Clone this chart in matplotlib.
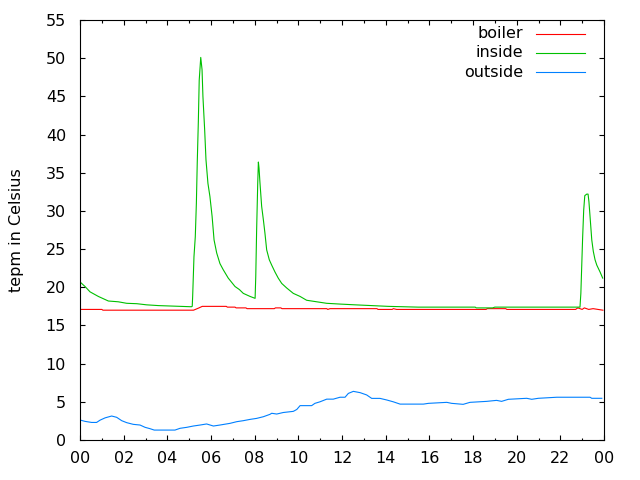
import matplotlib
matplotlib.use("Agg")
import matplotlib.pyplot as plt
from matplotlib.ticker import MultipleLocator, FuncFormatter

# hours of the day (0..24) and temperatures
inside_t = [0.0, 0.23, 0.46, 0.84, 1.3, 1.75, 2.14, 2.6, 3.05, 3.6, 4.1, 5.1,
            5.14, 5.16, 5.22, 5.28, 5.33, 5.37, 5.42, 5.46, 5.53, 5.59, 5.63,
            5.71, 5.77, 5.86, 5.95, 6.05, 6.14, 6.26, 6.41, 6.56, 6.79, 7.10,
            7.30, 7.48, 7.79, 8.02, 8.05, 8.09, 8.14, 8.17, 8.20, 8.24, 8.32,
            8.40, 8.47, 8.55, 8.67, 8.78, 8.93, 9.08, 9.24, 9.47, 9.77, 10.08,
            10.38, 10.84, 11.3, 11.91, 12.6, 14.12, 15.49, 17.4, 18.1, 18.15,
            18.9, 19.0, 22.9, 22.94, 22.98, 23.02, 23.07, 23.12, 23.21, 23.27,
            23.31, 23.36, 23.44, 23.51, 23.59, 23.67, 23.82, 23.94]
inside_v = [20.7, 20.1, 19.4, 18.8, 18.2, 18.1, 17.9, 17.85, 17.7, 17.6, 17.55, 17.45,
            17.5, 18.8, 24.0, 26.6, 31.0, 36.3, 41.7, 47.1, 50.1, 48.5, 45.0,
            40.6, 36.7, 33.6, 31.9, 29.3, 26.2, 24.5, 23.1, 22.3, 21.2, 20.1,
            19.7, 19.2, 18.8, 18.55, 21.4, 27.5, 33.6, 36.4, 35.6, 33.8, 30.6,
            28.8, 27.1, 24.9, 23.6, 22.9, 22.0, 21.2, 20.5, 19.9, 19.2, 18.8,
            18.3, 18.1, 17.9, 17.8, 17.7, 17.5, 17.4, 17.4, 17.4, 17.3,
            17.3, 17.4, 17.4, 19.2, 22.8, 26.4, 30.1, 32.0, 32.2, 32.2,
            31.2, 29.3, 26.2, 24.7, 23.6, 22.9, 22.0, 21.2]

boiler_t = [0.0, 1.0, 1.05, 5.2, 5.45, 5.6, 6.7, 6.75, 7.1, 7.15, 7.6, 7.65,
            8.9, 8.95, 9.2, 9.25, 11.3, 11.35, 11.45, 13.6, 13.65, 14.3, 14.35,
            14.5, 18.6, 18.65, 19.5, 19.55, 22.7, 22.8, 23.0, 23.1, 23.3, 23.5,
            23.95]
boiler_v = [17.1, 17.1, 17.0, 17.0, 17.3, 17.5, 17.5, 17.4, 17.4, 17.3, 17.3, 17.2,
            17.2, 17.3, 17.3, 17.2, 17.2, 17.1, 17.2, 17.2, 17.1, 17.1, 17.2,
            17.1, 17.1, 17.2, 17.2, 17.1, 17.1, 17.3, 17.1, 17.3, 17.1, 17.2,
            17.0]

outside_t = [0.0, 0.23, 0.53, 0.76, 0.92, 1.15, 1.45, 1.68, 1.91, 2.14, 2.44,
             2.75, 2.98, 3.21, 3.4, 4.35, 4.58, 4.89, 5.19, 5.5, 5.8, 6.11,
             6.41, 6.87, 7.18, 7.48, 7.79, 8.09, 8.40, 8.7, 8.78, 9.01, 9.31,
             9.77, 9.93, 10.08, 10.61, 10.76, 10.99, 11.3, 11.6, 11.91, 12.14,
             12.29, 12.52, 12.83, 13.13, 13.36, 13.74, 14.05, 14.35, 14.66,
             15.73, 15.96, 16.8, 17.02, 17.55, 17.86, 18.63, 19.08, 19.31,
             19.62, 20.46, 20.69, 20.99, 21.84, 23.36, 23.44, 23.9]
outside_v = [2.62, 2.44, 2.3, 2.3, 2.6, 2.9, 3.14, 2.97, 2.53, 2.27, 2.05,
             1.96, 1.66, 1.48, 1.3, 1.3, 1.53, 1.66, 1.83, 1.96, 2.1, 1.83,
             1.96, 2.18, 2.4, 2.53, 2.7, 2.83, 3.05, 3.36, 3.5, 3.4, 3.6,
             3.75, 4.0, 4.5, 4.5, 4.8, 5.0, 5.35, 5.35, 5.6, 5.6,
             6.1, 6.37, 6.2, 5.9, 5.45, 5.45, 5.24, 5.0, 4.7,
             4.7, 4.8, 4.93, 4.8, 4.67, 4.93, 5.06, 5.19, 5.06,
             5.33, 5.46, 5.33, 5.46, 5.6, 5.6, 5.46, 5.46]

series = [
    ("boiler", boiler_t, boiler_v, "#ff0000"),
    ("inside", inside_t, inside_v, "#00c000"),
    ("outside", outside_t, outside_v, "#0080ff"),
]

plt.rcParams["font.family"] = "DejaVu Sans"
fs = 11.5
lw = 0.8

fig = plt.figure(figsize=(6.4, 4.8), dpi=100)
ax = fig.add_axes([80 / 640, 40 / 480, 524 / 640, 420 / 480])

for name, t, v, color in series:
    ax.plot(t, v, color=color, linewidth=lw)

ax.set_xlim(0, 24)
ax.set_ylim(0, 55)
ax.xaxis.set_major_locator(MultipleLocator(2))
ax.xaxis.set_minor_locator(MultipleLocator(1))
ax.yaxis.set_major_locator(MultipleLocator(5))
ax.xaxis.set_major_formatter(FuncFormatter(lambda x, p: "%02d" % (int(round(x)) % 24)))
ax.tick_params(which="both", direction="in", top=True, right=True,
               labelsize=fs, width=0.8)
ax.tick_params(axis="y", pad=10)
ax.tick_params(axis="x", pad=8)
ax.tick_params(which="major", length=3.4)
ax.tick_params(which="minor", length=1.8)
for s in ax.spines.values():
    s.set_linewidth(0.8)

ax.set_ylabel("tepm in Celsius", fontsize=fs, labelpad=16)

# gnuplot-style key: right-aligned text with a line sample after it
for i, (name, t, v, color) in enumerate(series):
    y = 0.967 - i * 0.0455
    ax.text(0.845, y, name, transform=ax.transAxes, ha="right", va="center",
            fontsize=fs)
    ax.plot([0.870, 0.964], [y, y], transform=ax.transAxes, color=color,
            linewidth=lw)

fig.savefig("out.png", dpi=100, facecolor="white")
